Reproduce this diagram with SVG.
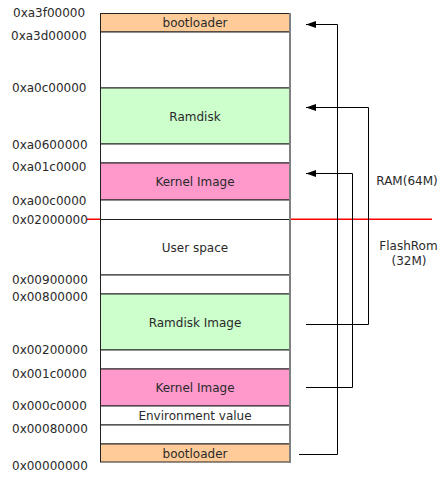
<svg xmlns="http://www.w3.org/2000/svg" width="442" height="477" viewBox="0 0 442 477">
<defs>
<style>
text{font-family:"DejaVu Sans","Liberation Sans",sans-serif;font-size:12px;fill:#2a2a2a}
.c{text-anchor:middle}
.seg{stroke:#222;stroke-width:1}
.boot{fill:#FFCC99}
.ram{fill:#CCFFCC}
.ker{fill:#FF99CC}
.wht{fill:#FFFFFF}
.conn{fill:none;stroke:#000;stroke-width:1}
</style>
<marker id="ah" markerWidth="10" markerHeight="7" refX="10" refY="3.5" orient="auto" markerUnits="userSpaceOnUse">
<path d="M0,0 L10,3.5 L0,7 Z" fill="#000"/>
</marker>
</defs>
<rect width="442" height="477" fill="#fff"/>
<rect x="87" y="218.5" width="345" height="1.5" fill="#FF0000" stroke="none"/>
<g id="memmap">
<g id="n-boot-ram"><rect class="seg boot" x="100.5" y="13.5" width="189" height="18.5"/><text class="c" x="195" y="26.5">bootloader</text></g>
<g id="n-free-ram"><rect class="seg wht" x="100.5" y="32" width="189" height="56"/></g>
<g id="n-ramdisk"><rect class="seg ram" x="100.5" y="88" width="189" height="56"/><text class="c" x="195" y="120.5">Ramdisk</text></g>
<g id="n-gap1"><rect class="seg wht" x="100.5" y="144" width="189" height="19"/></g>
<g id="n-kernel-ram"><rect class="seg ker" x="100.5" y="163" width="189" height="37"/><text class="c" x="195" y="186">Kernel Image</text></g>
<g id="n-gap2"><rect class="seg wht" x="100.5" y="200" width="189" height="19.5"/></g>
<g id="n-user"><rect class="seg wht" x="100.5" y="219.5" width="189" height="55.5"/><text class="c" x="195" y="251.5">User space</text></g>
<g id="n-gap3"><rect class="seg wht" x="100.5" y="275" width="189" height="19"/></g>
<g id="n-ramdisk-img"><rect class="seg ram" x="100.5" y="294" width="189" height="56"/><text class="c" x="195" y="326.5">Ramdisk Image</text></g>
<g id="n-gap4"><rect class="seg wht" x="100.5" y="350" width="189" height="19"/></g>
<g id="n-kernel-img"><rect class="seg ker" x="100.5" y="369" width="189" height="37"/><text class="c" x="195" y="392">Kernel Image</text></g>
<g id="n-env"><rect class="seg wht" x="100.5" y="406" width="189" height="19"/><text class="c" x="195" y="420">Environment value</text></g>
<g id="n-gap5"><rect class="seg wht" x="100.5" y="425" width="189" height="19"/></g>
<g id="n-boot-flash"><rect class="seg boot" x="100.5" y="444" width="189" height="18"/><text class="c" x="195" y="457.5">bootloader</text></g>
<line x1="290" y1="13" x2="290" y2="463" stroke="#808080" stroke-width="2"/>
</g>
<g id="addresses">
<text x="13" y="17">0xa3f00000</text>
<text x="11" y="40">0xa3d00000</text>
<text x="12" y="92">0xa0c00000</text>
<text x="12" y="149">0xa0600000</text>
<text x="12" y="171">0xa01c0000</text>
<text x="12" y="205">0xa00c0000</text>
<text x="12" y="224">0x02000000</text>
<text x="12" y="284">0x00900000</text>
<text x="12" y="301">0x00800000</text>
<text x="12" y="354">0x00200000</text>
<text x="12" y="378">0x001c0000</text>
<text x="12" y="410">0x000c0000</text>
<text x="12" y="433">0x00080000</text>
<text x="12" y="470">0x00000000</text>
</g>
<g id="connectors">
<polyline class="conn" points="299,454.5 337.5,454.5 337.5,24.5 306,24.5" marker-end="url(#ah)"/>
<polyline class="conn" points="306,324.5 368.5,324.5 368.5,107.5 306,107.5" marker-end="url(#ah)"/>
<polyline class="conn" points="306,387.5 352.5,387.5 352.5,173.5 306,173.5" marker-end="url(#ah)"/>
</g>
<g id="labels">
<text class="c" x="407" y="185">RAM(64M)</text>
<text class="c" x="408.5" y="250">FlashRom</text>
<text class="c" x="409" y="265">(32M)</text>
</g>
</svg>
